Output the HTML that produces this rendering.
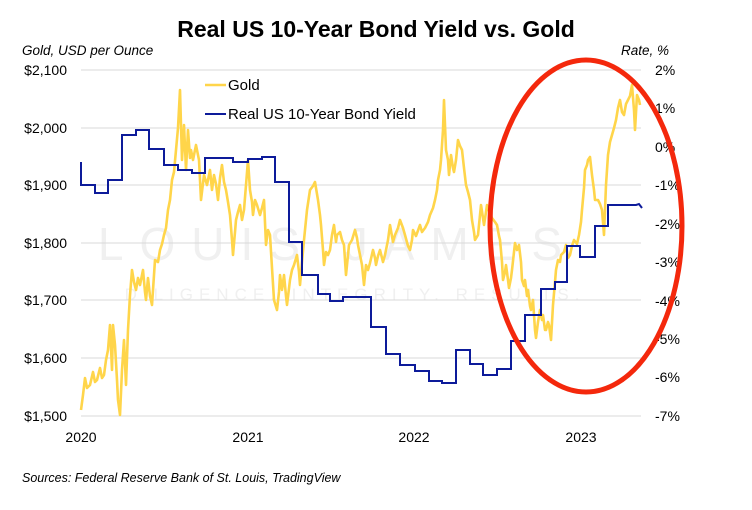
<!DOCTYPE html>
<html><head><meta charset="utf-8"><style>
html,body{margin:0;padding:0;background:#fff;}
svg{display:block;font-family:"Liberation Sans",sans-serif;}
</style></head><body>
<svg width="752" height="510" viewBox="0 0 752 510" xmlns="http://www.w3.org/2000/svg">
<rect width="752" height="510" fill="#fff"/>
<text x="376" y="37" text-anchor="middle" font-size="23" font-weight="bold" fill="#000">Real US 10-Year Bond Yield vs. Gold</text>
<text x="22" y="55" font-size="13.5" font-style="italic" fill="#000">Gold, USD per Ounce</text>
<text x="669" y="55" font-size="13.5" font-style="italic" fill="#000" text-anchor="end">Rate, %</text>
<text x="338" y="260" text-anchor="middle" font-size="46" fill="#f0f0f0" letter-spacing="16">LOUIS JAMES</text>
<text x="355" y="300" text-anchor="middle" font-size="17" fill="#f0f0f0" letter-spacing="6">DILIGENCE. INTEGRITY. RESULTS.</text>
<g stroke="#d9d9d9" stroke-width="1">
<line x1="81" x2="641" y1="70" y2="70"/><line x1="81" x2="641" y1="128" y2="128"/>
<line x1="81" x2="641" y1="185" y2="185"/><line x1="81" x2="641" y1="243" y2="243"/>
<line x1="81" x2="641" y1="300" y2="300"/><line x1="81" x2="641" y1="358" y2="358"/>
<line x1="81" x2="641" y1="416" y2="416"/>
</g>
<g font-size="14" fill="#000" text-anchor="end">
<text x="67" y="75">$2,100</text><text x="67" y="133">$2,000</text><text x="67" y="190">$1,900</text>
<text x="67" y="248">$1,800</text><text x="67" y="305">$1,700</text><text x="67" y="363">$1,600</text><text x="67" y="421">$1,500</text>
</g>
<g font-size="14" fill="#000">
<text x="655" y="75">2%</text><text x="655" y="113">1%</text><text x="655" y="152">0%</text>
<text x="655" y="190">-1%</text><text x="655" y="229">-2%</text><text x="655" y="267">-3%</text>
<text x="655" y="306">-4%</text><text x="655" y="344">-5%</text><text x="655" y="382">-6%</text><text x="655" y="421">-7%</text>
</g>
<g font-size="14" fill="#000" text-anchor="middle">
<text x="81" y="442">2020</text><text x="248" y="442">2021</text><text x="414" y="442">2022</text><text x="581" y="442">2023</text>
</g>
<polyline fill="none" stroke="#ffd54a" stroke-width="2.6" stroke-linejoin="round" points="81,410 83,395 85,378 87,388 90,385 93,372 95,382 97,380 100,368 102,378 104,375 106,360 108,350 110,325 112,370 113,325 115,345 117,380 118,400 120,415 122,370 124,340 126,385 128,330 130,295 132,270 134,282 136,290 138,278 140,285 143,270 145,292 146,300 148,278 150,296 152,305 155,260 158,262 160,250 162,244 164,235 166,228 168,210 170,200 172,180 174,172 176,150 178,128 180,90 182,160 184,125 186,170 188,130 190,158 191,150 193,160 196,145 199,160 201,200 204,175 207,185 210,170 212,190 214,175 216,184 218,200 220,178 222,165 224,182 226,190 228,202 230,215 232,240 233,255 235,232 236,220 238,212 240,205 242,220 244,210 246,185 248,160 250,190 252,202 253,215 255,200 257,205 260,215 262,208 264,200 266,245 268,230 270,235 272,268 274,300 277,310 279,292 280,275 282,290 284,275 286,296 287,305 290,280 292,270 294,265 297,255 299,272 300,285 302,262 304,240 307,210 310,190 313,186 315,182 318,200 320,215 321,225 323,250 324,265 326,252 328,255 330,250 332,235 334,225 336,242 337,235 340,232 342,240 344,245 346,275 348,255 349,245 352,240 355,230 357,238 358,245 360,255 362,265 364,285 366,265 368,270 370,263 373,250 375,258 376,265 378,256 380,250 383,262 385,255 388,240 390,225 393,242 395,235 398,228 400,220 403,228 405,235 408,246 410,250 412,240 413,230 416,236 420,225 422,232 425,228 428,222 430,215 433,208 435,200 437,190 438,180 440,170 441,160 443,130 444,100 446,150 448,160 449,175 451,155 453,168 454,172 456,160 458,140 460,146 462,150 464,168 466,185 468,192 470,200 472,220 474,232 475,240 478,235 480,215 481,205 483,218 484,225 486,212 487,205 490,214 492,218 495,222 497,225 499,236 500,240 502,262 503,280 505,272 506,265 508,280 509,288 511,278 512,270 514,252 515,243 517,250 519,245 521,262 522,280 524,286 525,280 527,296 528,290 530,306 531,310 533,300 535,330 536,338 538,322 540,310 542,320 543,315 545,330 546,330 548,322 549,325 551,340 553,305 555,282 556,270 558,260 560,262 561,255 564,252 566,245 568,258 570,255 572,246 574,240 577,244 579,235 581,222 582,210 584,188 585,170 587,165 588,160 590,157 592,175 594,190 595,200 598,200 600,204 602,210 604,235 606,185 608,155 610,142 612,135 614,128 616,120 618,108 620,100 622,112 624,115 626,104 628,100 630,96 632,85 634,110 635,130 637,95 639,100 640,105"/>
<polyline fill="none" stroke="#0d1b9a" stroke-width="2" points="81,162 81,185 95,185 95,193 108,193 108,180 122,180 122,135 136,135 136,130 149,130 149,149 164,149 164,165 178,165 178,170 192,170 192,173 205,173 205,158 233,158 233,162 248,162 248,159 262,159 262,157 275,157 275,182 289,182 289,242 302,242 302,275 318,275 318,294 330,294 330,301 343,301 343,297 371,297 371,327 386,327 386,354 400,354 400,365 415,365 415,371 429,371 429,381 442,381 442,383 456,383 456,350 470,350 470,364 483,364 483,375 497,375 497,369 511,369 511,341 525,341 525,315 541,315 541,289 555,289 555,282 567,282 567,246 580,246 580,257 595,257 595,226 608,226 608,205 636,205 639,204 642,208"/>
<ellipse cx="586" cy="226" rx="96" ry="166" fill="none" stroke="#f4280c" stroke-width="5"/>
<line x1="205" x2="226" y1="85" y2="85" stroke="#ffd54a" stroke-width="2.6"/>
<text x="228" y="90" font-size="15" fill="#000">Gold</text>
<line x1="205" x2="226" y1="114" y2="114" stroke="#0d1b9a" stroke-width="2"/>
<text x="228" y="119" font-size="15" fill="#000">Real US 10-Year Bond Yield</text>
<text x="22" y="482" font-size="12.5" font-style="italic" fill="#000">Sources: Federal Reserve Bank of St. Louis, TradingView</text>
</svg>
</body></html>
